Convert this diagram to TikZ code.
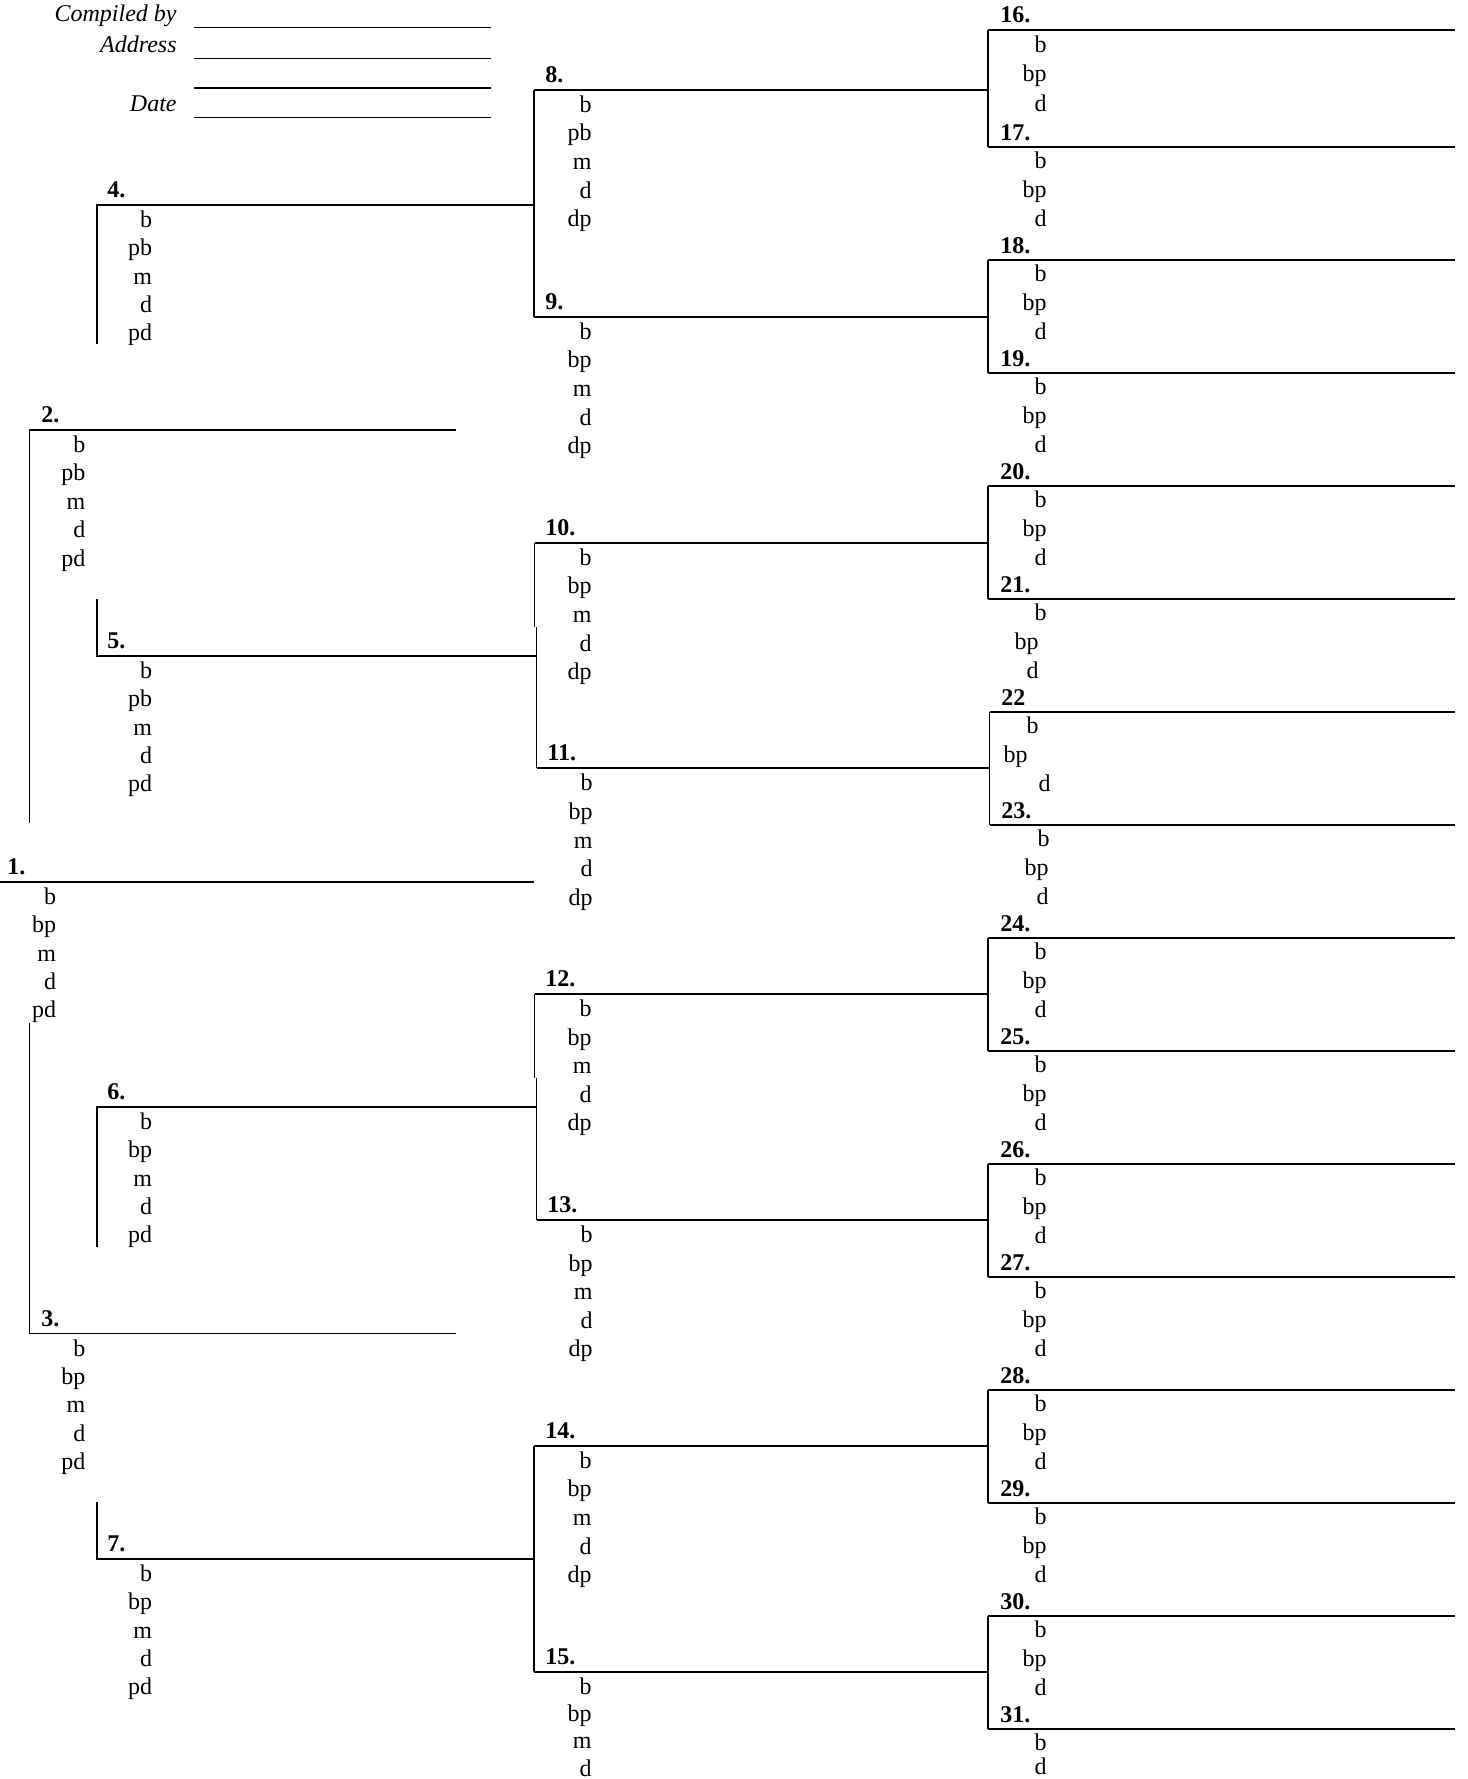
\documentclass[tikz,border=0pt]{standalone}
\usepackage{fontspec}
\setmainfont{Liberation Serif}
\newcommand\pedP[6]{%
  \node[num] (n#1) at (#3,#2-7.5) {#1.};
  \foreach \t [count=\i from 0] in {#5} \node[fld] (f#1-\i) at (#4,#2+22.5+#6*\i) {\t};
}
\newcommand\pedR[2]{%
  \coordinate (L#1) at (988,#2);
  \coordinate (R#1) at (1454.5,#2);
  \draw[rule] (L#1) -- (R#1);
  \node[num] (n#1) at (1000,#2-7) {#1.};
  \foreach \t [count=\i from 0] in {b,bp,d} \node[fld] (f#1-\i) at (1047,#2+21.5+29*\i) {\t};
}
\begin{document}
\begin{tikzpicture}[x=0.5pt,y=-0.5pt,
  font=\fontsize{12}{14}\selectfont,
  num/.style={font=\fontsize{12}{14}\selectfont\bfseries,anchor=base west,inner sep=0pt},
  fld/.style={anchor=base east,inner sep=0pt},
  hdr/.style={font=\fontsize{12}{14}\selectfont\itshape,anchor=base east,inner sep=0pt},
  rule/.style={line width=0.9pt}]
\useasboundingbox (0,0) rectangle (1468,1779);

% header
\node[hdr] (hc) at (177,21) {Compiled by};
\node[hdr] (ha) at (177,52) {Address};
\node[hdr] (hd) at (177,111) {Date};
\foreach \y/\n in {27.5/1,58.5/2,88/3,117.5/4} {
  \coordinate (hl\n) at (194,\y); \coordinate (hr\n) at (491,\y);
  \draw[rule] (hl\n) -- (hr\n);
}

% column 4 (16-31)
% 16
\coordinate (L16) at (988,30); \coordinate (R16) at (1454.5,30);
\draw[rule] (L16) -- (R16);
\node[num] (n16) at (1000,22.5) {16.};
\node[fld] (f16-0) at (1047,52) {b};
\node[fld] (f16-1) at (1047,81.5) {bp};
\node[fld] (f16-2) at (1047,111) {d};
\pedR{17}{147.3}
\pedR{18}{260.3}
\pedR{19}{373.3}
\pedR{20}{486.3}
% 21
\coordinate (L21) at (988,599.3); \coordinate (R21) at (1454.5,599.3);
\draw[rule] (L21) -- (R21);
\node[num] (n21) at (1000,592.3) {21.};
\node[fld] (f21-0) at (1047,620.8) {b};
\node[fld] (f21-1) at (1039,649.8) {bp};
\node[fld] (f21-2) at (1039,678.8) {d};
% 22
\coordinate (L22) at (989.5,712.3); \coordinate (R22) at (1454.5,712.3);
\draw[rule] (L22) -- (R22);
\node[num] (n22) at (1001,705.3) {22};
\node[fld] (f22-0) at (1039,733.8) {b};
\node[fld] (f22-1) at (1028,762.8) {bp};
\node[fld] (f22-2) at (1051,791.8) {d};
% 23
\coordinate (L23) at (989.5,825.3); \coordinate (R23) at (1454.5,825.3);
\draw[rule] (L23) -- (R23);
\node[num] (n23) at (1001,818.3) {23.};
\node[fld] (f23-0) at (1050,846.8) {b};
\node[fld] (f23-1) at (1049,875.8) {bp};
\node[fld] (f23-2) at (1049,904.8) {d};
\pedR{24}{938.3}
\pedR{25}{1051.3}
\pedR{26}{1164.3}
\pedR{27}{1277.3}
\pedR{28}{1390.3}
\pedR{29}{1503.3}
\pedR{30}{1616.3}
% 31
\coordinate (L31) at (988,1729.3); \coordinate (R31) at (1454.5,1729.3);
\draw[rule] (L31) -- (R31);
\node[num] (n31) at (1000,1722.3) {31.};
\node[fld] (f31-0) at (1047,1750.8) {b};
\node[fld] (f31-1) at (1047,1774) {d};

\foreach \a/\b in {16/17,18/19,20/21,22/23,24/25,26/27,28/29,30/31}
  \draw[rule] (L\a) -- (L\b);

% column 3 (8-15)
\foreach \j/\y/\xa/\xb in {8/89.6/534/988,9/316.7/534/988,10/542.7/534.5/988,11/768.3/536.5/989.5,
  12/994/534.5/988,13/1220/536.5/988,14/1445.7/534/988,15/1671.7/534/988} {
  \coordinate (A\j) at (\xa,\y); \coordinate (B\j) at (\xb,\y);
  \draw[rule] (A\j) -- (B\j);
}
\draw[rule] (A8) -- (A9);
\coordinate (c10) at (534.5,627); \coordinate (c11) at (536.5,627);
\draw[rule] (A10) -- (c10); \draw[rule] (c11) -- (A11);
\coordinate (c12) at (534.5,1078); \coordinate (c13) at (536.5,1078);
\draw[rule] (A12) -- (c12); \draw[rule] (c13) -- (A13);
\draw[rule] (A14) -- (A15);

\pedP{8}{89.6}{545}{592}{b,pb,m,d,dp}{28.7}
\pedP{9}{316.7}{545}{592}{b,bp,m,d,dp}{28.6}
\pedP{10}{542.7}{545}{592}{b,bp,m,d,dp}{28.6}
\pedP{11}{768.3}{547}{593}{b,bp,m,d,dp}{28.6}
\pedP{12}{994}{545}{592}{b,bp,m,d,dp}{28.6}
\pedP{13}{1220}{547}{593}{b,bp,m,d,dp}{28.6}
\pedP{14}{1445.7}{545}{592}{b,bp,m,d,dp}{28.6}
\pedP{15}{1671.7}{545}{592}{b,bp,m,d}{27.3}

% column 2 (4-7)
\coordinate (P4) at (97,205);  \coordinate (Q4) at (97,343.5);
\coordinate (P5) at (97,656);  \coordinate (Q5) at (97,599);
\coordinate (P6) at (97,1107); \coordinate (Q6) at (97,1247);
\coordinate (P7) at (97,1559); \coordinate (Q7) at (97,1502);
\coordinate (E4) at (534,205); \coordinate (E5) at (536.5,656);
\coordinate (E6) at (536.5,1107); \coordinate (E7) at (534,1559);
\foreach \j in {4,5,6,7} {
  \draw[rule] (Q\j) -- (P\j) -- (E\j);
}
\pedP{4}{205}{107}{152.5}{b,pb,m,d,pd}{28.3}
\pedP{5}{656}{107}{152.5}{b,pb,m,d,pd}{28.3}
\pedP{6}{1107}{107}{152.5}{b,bp,m,d,pd}{28.3}
\pedP{7}{1559}{107}{152.5}{b,bp,m,d,pd}{28.3}

% column 1 (1-3)
\coordinate (P1) at (0,881.7); \coordinate (E1) at (534,881.7);
\draw[rule] (P1) -- (E1);
\coordinate (P2) at (29.5,430); \coordinate (Q2) at (29.5,823); \coordinate (E2) at (456,430);
\draw[rule] (Q2) -- (P2) -- (E2);
\coordinate (P3) at (29.5,1333.5); \coordinate (Q3) at (29.5,1023); \coordinate (E3) at (456,1333.5);
\draw[rule] (Q3) -- (P3) -- (E3);
\pedP{1}{881.7}{7}{56.5}{b,bp,m,d,pd}{28.4}
\pedP{2}{430}{41}{85.7}{b,pb,m,d,pd}{28.4}
\pedP{3}{1333.5}{41}{85.7}{b,bp,m,d,pd}{28.4}
\end{tikzpicture}
\end{document}
